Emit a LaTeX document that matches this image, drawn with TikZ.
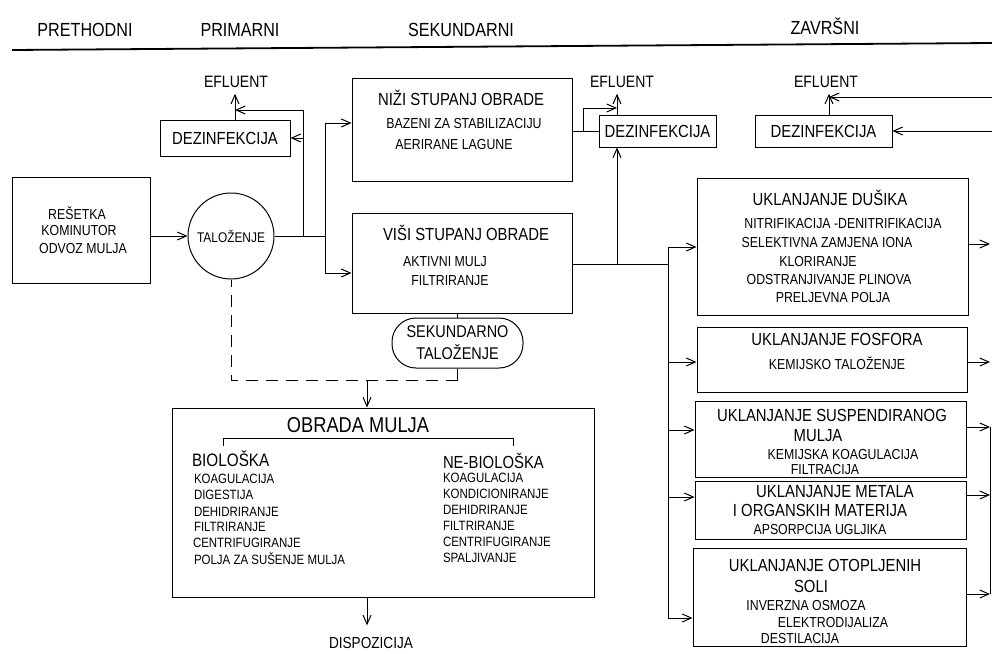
\documentclass[tikz,border=0pt]{standalone}
\usepackage{fontspec}
\setmainfont{Liberation Sans}
\newfontfamily\nar{Liberation Sans}[FakeStretch=0.85]
\usetikzlibrary{arrows.meta}
\begin{document}
\begin{tikzpicture}[x=1pt,y=-1pt,
  line width=1pt,
  box/.style={draw, rectangle, inner sep=0pt},
  arr/.style={-{Straight Barb[length=9pt,width=8pt,line width=1pt]}},
  txt/.style={inner sep=0pt, outer sep=0pt},
  hd/.style={txt, font=\nar\fontsize{19}{21}\selectfont},
  ttl/.style={txt, font=\nar\fontsize{17.5}{19}\selectfont},
  itm/.style={txt, font=\nar\fontsize{14.5}{16}\selectfont},
  lst/.style={txt, anchor=west, font=\nar\fontsize{13.5}{15}\selectfont},
  efl/.style={txt, outer ysep=6pt, font=\nar\fontsize{16.5}{18}\selectfont},
]
\useasboundingbox (0,0) rectangle (992,653);

% header
\node[hd] (h1) at (85,30) {PRETHODNI};
\node[hd] (h2) at (240,30) {PRIMARNI};
\node[hd] (h3) at (461,30) {SEKUNDARNI};
\node[hd] (h4) at (825,26) {ZAVRŠNI};
\draw[line width=1.8pt] (12,50) -- (992,43);

% preliminary
\node[box, minimum width=138pt, minimum height=106pt] (pre) at (81,230) {};
\node[itm] (pre1) at (77,213) {REŠETKA};
\node[itm] (pre2) at (79,231) {KOMINUTOR};
\node[itm] (pre3) at (83,249) {ODVOZ MULJA};

% primary
\node[draw, circle, minimum size=86pt, inner sep=0pt, font=\nar\fontsize{14}{16}\selectfont] (tal) at (231,236) {TALOŽENJE};
\node[box, minimum width=130pt, minimum height=36pt, font=\nar\fontsize{17.5}{19}\selectfont] (dz1) at (225,138) {DEZINFEKCIJA};
\node[efl] (ef1) at (236,82) {EFLUENT};

\draw[arr] (pre.east |- tal) -- (tal.west);
\coordinate (j0) at (303,236);
\coordinate (j1) at (325,236);
\coordinate (m1) at (235,110);
\draw (tal.east) -- (j1);
\draw[arr] (j0) |- (dz1.east);
\draw[arr] (j0) |- (m1);
\draw[arr] (dz1.north -| m1) -- (ef1.south -| m1);

% secondary
\node[box, minimum width=220pt, minimum height=103pt] (nizi) at (462,129.5) {};
\node[ttl] (n1) at (461,98) {NIŽI STUPANJ OBRADE};
\node[itm] (n2) at (464,124) {BAZENI ZA STABILIZACIJU};
\node[itm] (n3) at (454,145) {AERIRANE LAGUNE};

\node[box, minimum width=220pt, minimum height=100pt] (visi) at (462,263) {};
\node[ttl] (v1) at (466,233) {VIŠI STUPANJ OBRADE};
\node[itm] (v2) at (445,262) {AKTIVNI MULJ};
\node[itm] (v3) at (450,281) {FILTRIRANJE};

\draw[arr] (j1) |- (nizi.west |- 0,123);
\draw[arr] (j1) |- (visi.west |- 0,273);

\node[box, minimum width=117pt, minimum height=32pt, font=\nar\fontsize{17.5}{19}\selectfont] (dz2) at (657.5,131) {DEZINFEKCIJA};
\node[efl] (ef2) at (622,82) {EFLUENT};
\coordinate (j2) at (583,131);
\coordinate (m2) at (617,108);
\draw (nizi.east |- dz2.west) -- (dz2.west);
\draw[arr] (j2) |- (m2);
\draw[arr] (dz2.north -| m2) -- (ef2.south -| m2);
\coordinate (j3) at (617,264);
\coordinate (j4) at (668,264);
\draw (visi.east |- j4) -- (j4);
\draw[arr] (j3) -- (dz2.south -| j3);

\node[draw, rounded corners=24pt, minimum width=131pt, minimum height=50pt, inner sep=0pt, align=center, font=\nar\fontsize{17}{22}\selectfont] (sek) at (457.5,343) {SEKUNDARNO\\TALOŽENJE};
\draw (sek.north |- visi.south) -- (sek.north);
\coordinate (d1) at (456,380);
\coordinate (d2) at (367,380);
\draw (sek.south) -- (sek.south |- d1);
\draw[dash pattern=on 12pt off 8pt] (sek.south |- d1) -- (tal.south |- d1) -- (tal.south);

% sludge
\node[box, minimum width=422pt, minimum height=189pt] (obr) at (383,502.5) {};
\draw[arr] (d2) -- (obr.north -| d2);
\node[txt, font=\nar\fontsize{21.5}{23}\selectfont] (o1) at (358,425) {OBRADA MULJA};
\draw (223,446) -- (223,438) -- (513,438) -- (513,446);
\node[txt, anchor=west, font=\nar\fontsize{18}{20}\selectfont] (b0) at (192,459) {BIOLOŠKA};
\node[lst] (b1) at (194,479) {KOAGULACIJA};
\node[lst] (b2) at (194,495) {DIGESTIJA};
\node[lst] (b3) at (194,512) {DEHIDRIRANJE};
\node[lst] (b4) at (194,527) {FILTRIRANJE};
\node[lst] (b5) at (193,543) {CENTRIFUGIRANJE};
\node[lst] (b6) at (194,559) {POLJA ZA SUŠENJE MULJA};
\node[txt, anchor=west, font=\nar\fontsize{17.5}{19}\selectfont] (c0) at (443,461) {NE-BIOLOŠKA};
\node[lst] (c1) at (443,478) {KOAGULACIJA};
\node[lst] (c2) at (443,494) {KONDICIONIRANJE};
\node[lst] (c3) at (443,510) {DEHIDRIRANJE};
\node[lst] (c4) at (443,526) {FILTRIRANJE};
\node[lst] (c5) at (443,542) {CENTRIFUGIRANJE};
\node[lst] (c6) at (443,558) {SPALJIVANJE};
\node[txt, font=\nar\fontsize{16}{18}\selectfont] (disp) at (371,643) {DISPOZICIJA};
\draw[arr] (obr.south -| d2) -- ([yshift=12pt]disp.north -| d2);

% tertiary
\node[box, minimum width=137pt, minimum height=32pt, font=\nar\fontsize{17.5}{19}\selectfont] (dz3) at (823.5,131) {DEZINFEKCIJA};
\node[efl] (ef3) at (826,82) {EFLUENT};
\coordinate (m3) at (829,97);
\coordinate (r0) at (992,97);
\coordinate (r00) at (992,131);
\draw[arr] (r0) -- (m3);
\draw[arr] (r00) -- (dz3.east);
\draw[arr] (dz3.north -| m3) -- (ef3.south -| m3);

\node[box, minimum width=271pt, minimum height=137pt] (dus) at (832.5,246.5) {};
\node[ttl] (du0) at (830,198) {UKLANJANJE DUŠIKA};
\node[itm] (du1) at (843,224) {NITRIFIKACIJA -DENITRIFIKACIJA};
\node[itm] (du2) at (827,243) {SELEKTIVNA ZAMJENA IONA};
\node[itm] (du3) at (818,262) {KLORIRANJE};
\node[itm] (du4) at (829,280) {ODSTRANJIVANJE PLINOVA};
\node[itm] (du5) at (833,298) {PRELJEVNA POLJA};

\node[box, minimum width=270pt, minimum height=65pt] (fos) at (832,359.5) {};
\node[ttl] (fo0) at (837,339) {UKLANJANJE FOSFORA};
\node[itm] (fo1) at (837,363) {KEMIJSKO TALOŽENJE};

\node[box, minimum width=271pt, minimum height=76pt] (sus) at (830.5,439) {};
\node[ttl] (su0) at (832,415) {UKLANJANJE SUSPENDIRANOG};
\node[ttl] (su1) at (818,436) {MULJA};
\node[itm] (su2) at (843,455) {KEMIJSKA KOAGULACIJA};
\node[itm] (su3) at (825,470) {FILTRACIJA};

\node[box, minimum width=271pt, minimum height=58pt] (met) at (830.5,510) {};
\node[ttl] (me0) at (835,492) {UKLANJANJE METALA};
\node[ttl] (me1) at (820,510) {I ORGANSKIH MATERIJA};
\node[itm] (me2) at (820,529) {APSORPCIJA UGLJIKA};

\node[box, minimum width=273pt, minimum height=98pt] (oto) at (829.5,597) {};
\node[ttl] (ot0) at (825,565) {UKLANJANJE OTOPLJENIH};
\node[ttl] (ot1) at (811,586) {SOLI};
\node[itm] (ot2) at (806,605) {INVERZNA OSMOZA};
\node[itm] (ot3) at (833,622) {ELEKTRODIJALIZA};
\node[itm] (ot4) at (800,638) {DESTILACIJA};

% bus
\coordinate (bt) at (668,247);
\coordinate (bb) at (668,618);
\draw (j4) -- (bt) -- (bb);
\draw[arr] (bt) -- (dus.west |- bt);
\draw[arr] (668,362) -- (fos.west |- 0,362);
\draw[arr] (668,430) -- (sus.west |- 0,430);
\draw[arr] (668,497) -- (met.west |- 0,497);
\draw[arr] (bb) -- (oto.west |- bb);

% outgoing
\coordinate (q1) at (990,244);
\coordinate (q2) at (990,362);
\coordinate (q3) at (990,427);
\coordinate (q4) at (990,495);
\coordinate (q5) at (990,594);
\draw[arr] (dus.east |- q1) -- (q1);
\draw[arr] (fos.east |- q2) -- (q2);
\draw[arr] (sus.east |- q3) -- (q3);
\draw[arr] (met.east |- q4) -- (q4);
\draw[arr] (oto.east |- q5) -- (q5);
\draw (q3) -- (q5);
\end{tikzpicture}
\end{document}
